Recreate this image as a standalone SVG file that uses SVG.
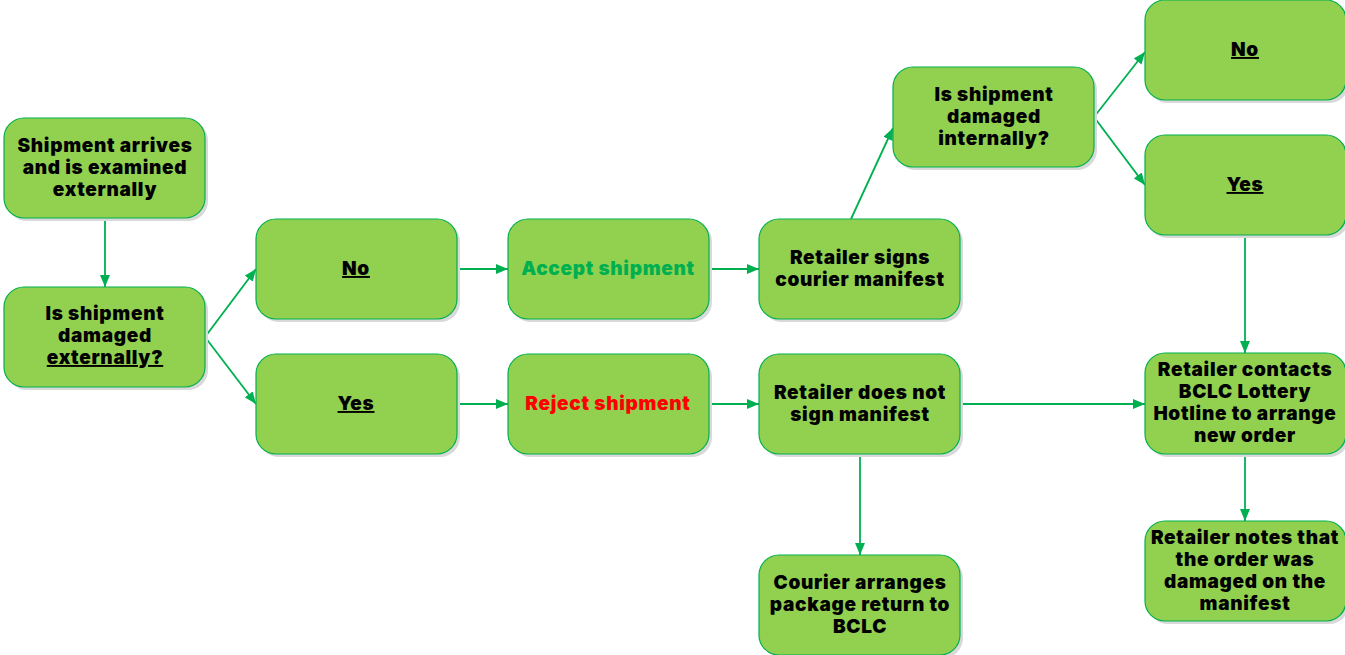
<svg xmlns="http://www.w3.org/2000/svg" width="1345" height="655" viewBox="0 0 1345 655">
<defs>
<style>
.box{fill:#92D050;stroke:#00B050;stroke-width:1.2}
.sh{fill:#d9d9d9}
.t{font-family:"Inter","Lato","Liberation Sans",sans-serif;font-weight:900;font-size:19px;letter-spacing:0.7px;fill:#000;text-anchor:middle}
.u{text-decoration:underline}
.c{stroke:#00B050;stroke-width:1.8;fill:none;marker-end:url(#ah)}
</style>
<marker id="ah" viewBox="0 0 12 10" refX="12" refY="5" markerWidth="12" markerHeight="10" markerUnits="userSpaceOnUse" orient="auto">
<path d="M0,0 L12,5 L0,10 Z" fill="#00B050"/>
</marker>
</defs>
<rect width="1345" height="655" fill="#fff"/>
<g id="connectors">
<path class="c" d="M105,218 L105,287"/>
<path class="c" d="M205,337 L256,269"/>
<path class="c" d="M205,337 L256,404"/>
<path class="c" d="M457,269 L508,269"/>
<path class="c" d="M457,404 L508,404"/>
<path class="c" d="M709,269 L759,269"/>
<path class="c" d="M709,404 L759,404"/>
<path class="c" d="M851,219 L893,128"/>
<path class="c" d="M1094,117 L1145,52"/>
<path class="c" d="M1094,117 L1145,185"/>
<path class="c" d="M1245,235 L1245,353"/>
<path class="c" d="M960,404 L1145,404"/>
<path class="c" d="M860,454 L860,555"/>
<path class="c" d="M1245,454 L1245,521"/>
</g>
<g id="n1"><rect class="sh" x="7" y="121" width="201" height="100" rx="20"/><rect class="box" x="4" y="118" width="201" height="100" rx="20"/>
<text class="t" x="105" y="152">Shipment arrives</text><text class="t" x="105" y="174">and is examined</text><text class="t" x="105" y="196">externally</text></g>
<g id="n2"><rect class="sh" x="7" y="290" width="201" height="100" rx="20"/><rect class="box" x="4" y="287" width="201" height="100" rx="20"/>
<text class="t" x="105" y="320">Is shipment</text><text class="t" x="105" y="342">damaged</text><text class="t u" x="105" y="364">externally?</text></g>
<g id="n3"><rect class="sh" x="259" y="222" width="201" height="100" rx="20"/><rect class="box" x="256" y="219" width="201" height="100" rx="20"/>
<text class="t u" x="356" y="275">No</text></g>
<g id="n4"><rect class="sh" x="259" y="357" width="201" height="100" rx="20"/><rect class="box" x="256" y="354" width="201" height="100" rx="20"/>
<text class="t u" x="356" y="410">Yes</text></g>
<g id="n5"><rect class="sh" x="511" y="222" width="201" height="100" rx="20"/><rect class="box" x="508" y="219" width="201" height="100" rx="20"/>
<text class="t" x="608" y="275" style="fill:#00B050">Accept shipment</text></g>
<g id="n6"><rect class="sh" x="511" y="357" width="201" height="100" rx="20"/><rect class="box" x="508" y="354" width="201" height="100" rx="20"/>
<text class="t" x="608" y="410" style="fill:#FF0000">Reject shipment</text></g>
<g id="n7"><rect class="sh" x="762" y="222" width="201" height="100" rx="20"/><rect class="box" x="759" y="219" width="201" height="100" rx="20"/>
<text class="t" x="860" y="264">Retailer signs</text><text class="t" x="860" y="286">courier manifest</text></g>
<g id="n8"><rect class="sh" x="762" y="357" width="201" height="100" rx="20"/><rect class="box" x="759" y="354" width="201" height="100" rx="20"/>
<text class="t" x="860" y="399">Retailer does not</text><text class="t" x="860" y="421">sign manifest</text></g>
<g id="n9"><rect class="sh" x="762" y="558" width="201" height="100" rx="20"/><rect class="box" x="759" y="555" width="201" height="100" rx="20"/>
<text class="t" x="860" y="589">Courier arranges</text><text class="t" x="860" y="611">package return to</text><text class="t" x="860" y="633">BCLC</text></g>
<g id="n10"><rect class="sh" x="896" y="70" width="201" height="100" rx="20"/><rect class="box" x="893" y="67" width="201" height="100" rx="20"/>
<text class="t" x="994" y="101">Is shipment</text><text class="t" x="994" y="123">damaged</text><text class="t" x="994" y="145">internally?</text></g>
<g id="n11"><rect class="sh" x="1148" y="3" width="201" height="100" rx="20"/><rect class="box" x="1145" y="0" width="201" height="100" rx="20"/>
<text class="t u" x="1245" y="56">No</text></g>
<g id="n12"><rect class="sh" x="1148" y="138" width="201" height="100" rx="20"/><rect class="box" x="1145" y="135" width="201" height="100" rx="20"/>
<text class="t u" x="1245" y="191">Yes</text></g>
<g id="n13"><rect class="sh" x="1148" y="356" width="201" height="101" rx="20"/><rect class="box" x="1145" y="353" width="201" height="101" rx="20"/>
<text class="t" x="1245" y="376">Retailer contacts</text><text class="t" x="1245" y="398">BCLC Lottery</text><text class="t" x="1245" y="420">Hotline to arrange</text><text class="t" x="1245" y="442">new order</text></g>
<g id="n14"><rect class="sh" x="1148" y="524" width="201" height="100" rx="20"/><rect class="box" x="1145" y="521" width="201" height="100" rx="20"/>
<text class="t" x="1245" y="544">Retailer notes that</text><text class="t" x="1245" y="566">the order was</text><text class="t" x="1245" y="588">damaged on the</text><text class="t" x="1245" y="610">manifest</text></g>
</svg>
